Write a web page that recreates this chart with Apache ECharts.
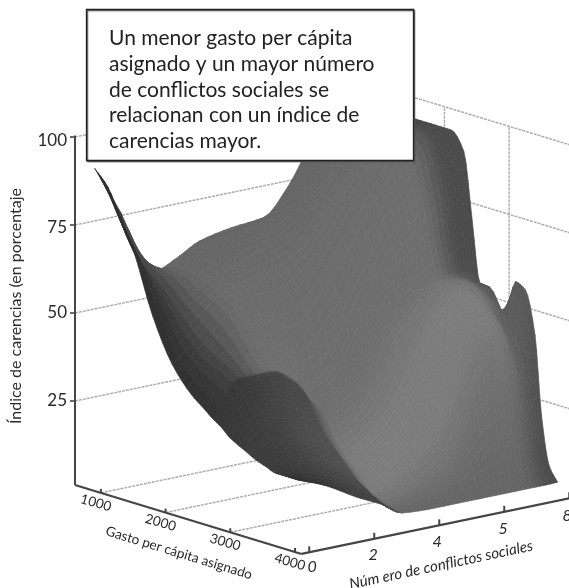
<!DOCTYPE html>
<html>
<head>
<meta charset="utf-8">
<script src="https://cdn.jsdelivr.net/npm/echarts@6/dist/echarts.min.js"></script>
<style>
html,body{margin:0;padding:0;background:#fff;}
#main{width:569px;height:588px;}
</style>
</head>
<body>
<div id="main"></div>
<script>
var nota = ['Un menor gasto per cápita','asignado y un mayor número','de conflictos sociales se','relacionan con un índice de','carencias mayor.'];
var gastoTicks = [1000,2000,3000,4000];
var conflictoTicks = ['0','2','4','5','8'];
var indiceTicks = [25,50,75,100];

// gasto per capita of each row, position on the conflictos axis of each column
var gastoFilas = [600,800,1000,1200,1500,1800,2100,2300,2430,2550,2700,2950,3100,3250,3400,3500,3620,3750];
var conflictoCols = [0.3,0.7,1.2,1.6,1.9,2.4,2.9,3.3,3.6,3.9,4.1,4.29];
// indice, one list per column
var col0 = [90,86,78,70,53,41,34,31,29,27.5,25,22.5,21,20,19,19,19,19];
var col1 = [76,67,62,59,53,47,43,41,39,37,33,27,24,21,18.5,17.5,16.5,16];
var col2 = [57,59,60,60,58,55,48,42,39,36,31,24,21,18,15.5,14,12.5,10.7];
var col3 = [60,62,63,63,61,56,46,38,34,30,25,19,16,13,11,9.5,8,7];
var col4 = [63,65,66,66,63,56,43,32,27,24,18.5,13,10,7,5.5,4.8,4,3.5];
var col5 = [65,66,67,68,66,62,52,40,33,29,24,18,15,12,9,7,5,3];
var col6 = [66,68,70,74,77,75,66,58,52,46,40,31,26,21,16,12,8,3];
var col7 = [74,78,82,85,87,85,78,68,58,53,51,48,45,40,33,25,13,3];
var col8 = [83,86,89,91,93,93,86,74,62,56,55,54,52,48,41,31,15,3];
var col9 = [88,90,92,94,95,95,92,80,64,56,56,53,50,46,38,28,13,3];
var col10 = [90.5,91.5,93,94,94.5,94.5,93,86,68,55,54,50,44,39,32,22,9,3];
var col11 = [91,92,93,94,94,94,94,89,70,53,52.7,46,56.5,55,43,20.8,7,3.1];
var indice = [col0,col1,col2,col3,col4,col5,col6,col7,col8,col9,col10,col11];
// darker front face of the surface: beyond this gasto and below this conflictos position
var caraGasto = 2430;
var caraConflicto = 1.9;

// oblique projection of the box
var GX = 0.0647, GY = 0.0197, AX = 65, AY = -13.5, ZY = -3.52;
var ORIGEN_X = 75, ORIGEN_Y = 489, G0 = 600, G_MAX = 4100, A_PARED = 4.29, A_MAX = 4.8, Z_PISO = 1.14;
function proy(g, a, z){
	return [ORIGEN_X + GX*(g-G0) + AX*a, ORIGEN_Y + GY*(g-G0) + AY*a + ZY*z];
}

function tangentes(xs, ys){
	var m = [], t = [], i;
	for(i=0;i<xs.length-1;i++){ m.push((ys[i+1]-ys[i])/(xs[i+1]-xs[i])); }
	t[0] = m[0];
	t[xs.length-1] = m[m.length-1];
	for(i=1;i<xs.length-1;i++){
		t[i] = m[i-1]*m[i] <= 0 ? 0 : 2*m[i-1]*m[i]/(m[i-1]+m[i]);
	}
	return t;
}
// same idea as smooth:true on a line, only for drawing between the read values
function suave(xs, ys, t, x){
	var i = 0;
	while(i < xs.length-2 && x > xs[i+1]){ i++; }
	var h = xs[i+1]-xs[i], s = (x-xs[i])/h;
	var h00 = 2*s*s*s-3*s*s+1, h10 = s*s*s-2*s*s+s, h01 = -2*s*s*s+3*s*s, h11 = s*s*s-s*s;
	return h00*ys[i] + h10*h*t[i] + h01*ys[i+1] + h11*h*t[i+1];
}
function partir(xs, n){
	var r = [];
	for(var i=0;i<xs.length-1;i++){
		for(var k=0;k<n;k++){ r.push(xs[i]+(xs[i+1]-xs[i])*k/n); }
	}
	r.push(xs[xs.length-1]);
	return r;
}

var SUB = 4;
var gFino = partir(gastoFilas, SUB);
var aFino = partir(conflictoCols, SUB);
var colFina = indice.map(function(c){
	var t = tangentes(gastoFilas, c);
	return gFino.map(function(g){ return suave(gastoFilas, c, t, g); });
});
var zFino = gFino.map(function(g, i){
	var fila = colFina.map(function(c){ return c[i]; });
	var t = tangentes(conflictoCols, fila);
	return aFino.map(function(a){ return suave(conflictoCols, fila, t, a); });
});

function rampa(x, a, b){
	var s = Math.max(0, Math.min(1, (x-a)/(b-a)));
	return s*s*(3-2*s);
}
// grey of the surface: light along gasto, darker flanks at both ends of conflictos
function tono(i, j){
	var g = (gFino[i]+gFino[i+1])/2, a = (aFino[j]+aFino[j+1])/2;
	var v = 100 + 10*rampa(g,600,2400) + 14*rampa(g,2400,2950) - 22*rampa(g,3200,3750);
	var atras = 1 - rampa(g,caraGasto+60,caraGasto+140);
	var flancoIzq = 0.46 + 0.54*rampa(a,0.3,1.25);
	var flancoDer = 1 - (0.32*atras*rampa(a,3.6,4.1) + 0.28*(1-atras)*rampa(a,3.7,4.29));
	var frente = rampa(g,caraGasto-25,caraGasto+25)*(1-rampa(a,caraConflicto-0.3,caraConflicto+0.1));
	var cara = (1-frente) * flancoIzq + frente * (0.48 + 0.16*rampa(a,0.3,1.6));
	v = Math.round(v*cara*flancoDer);
	return 'rgb('+v+','+v+','+v+')';
}

var celdas = [];
for(var fi=0;fi<gFino.length-1;fi++){
	for(var cj=aFino.length-2;cj>=0;cj--){
		celdas.push([fi,cj]);
	}
}

function linea(api, a, b, color, ancho, dash){
	var p = api.coord(a), q = api.coord(b);
	return {type:'line', shape:{x1:p[0],y1:p[1],x2:q[0],y2:q[1]},
		style:{stroke:color,lineWidth:ancho,lineDash:dash||null}};
}
function texto(api, pos, s, tam, ang, alin, ital){
	var p = api.coord(pos);
	return {type:'text', x:p[0], y:p[1], rotation:ang*Math.PI/180,
		style:{text:s, fill:'#2a2a2a', font:(ital?'italic ':'')+tam+'px Lato', align:alin||'center', verticalAlign:'middle'}};
}

function dibujaRejilla(params, api){
	var h = [], GRIS = '#adadad', D = [3,1];
	indiceTicks.forEach(function(z){
		h.push(linea(api, proy(G0,0,z), proy(G0,A_PARED,z), GRIS, 1.5, D));
		h.push(linea(api, proy(G0,A_PARED,z), proy(G_MAX,A_PARED,z), GRIS, 1.5, D));
	});
	gastoTicks.forEach(function(g){
		if(g < 4000){
			h.push(linea(api, proy(g,0,Z_PISO), proy(g,A_PARED,Z_PISO), GRIS, 1.5, D));
			h.push(linea(api, proy(g,A_PARED,Z_PISO), proy(g,A_PARED,100), GRIS, 1.5, D));
		}
	});
	return {type:'group', children:h};
}

function dibujaCelda(params, api){
	var i = api.value(0), j = api.value(1);
	var pts = [[i,j],[i+1,j],[i+1,j+1],[i,j+1]].map(function(v){
		return api.coord(proy(gFino[v[0]], aFino[v[1]], zFino[v[0]][v[1]]));
	});
	var c = tono(i,j);
	return {type:'polygon', shape:{points:pts}, style:{fill:c,stroke:c,lineWidth:0.7}};
}

function dibujaEjes(params, api){
	var h = [], OSC = '#454545';
	var dxTick = [3,-1,-2,-1,-2], dyTick = [15,16,17,17,18];
	h.push(linea(api, proy(G0,0,100.4), proy(G0,0,Z_PISO), OSC, 2));
	h.push(linea(api, proy(G0,0,Z_PISO), proy(G_MAX,0,Z_PISO), OSC, 2.2));
	h.push(linea(api, proy(G_MAX,0,Z_PISO), proy(G_MAX,A_MAX,Z_PISO), OSC, 2.2));
	indiceTicks.forEach(function(z){
		var p = proy(G0,0,z);
		h.push(linea(api, [p[0]-5,p[1]], p, OSC, 1.6));
		h.push(texto(api, [p[0]-8,p[1]+(z==100?4:z==75?3:0)], String(z), 17, 0, 'right'));
	});
	gastoTicks.forEach(function(g){
		var p = proy(g,0,Z_PISO);
		h.push(linea(api, p, [p[0],p[1]-4], OSC, 2));
		h.push(texto(api, [p[0]-5,p[1]+10], String(g), 13.5, -16));
	});
	conflictoTicks.forEach(function(s,k){
		var p = proy(G_MAX,k+0.12,Z_PISO);
		h.push(linea(api, p, [p[0],p[1]-6], OSC, 2));
		h.push(texto(api, [p[0]+dxTick[k],p[1]+dyTick[k]], s, 16, 0, 'center', true));
	});
	h.push(texto(api, [16,306], 'Índice de carencias (en porcentaje', 16, 90));
	h.push(texto(api, [179,553], 'Gasto per cápita asignado', 13.5, -17));
	h.push(texto(api, [441,565], 'Núm ero de conflictos sociales', 15, 12, 'center', true));
	return {type:'group', children:h};
}

var chart = echarts.init(document.getElementById('main'));
chart.setOption({
	animation:false,
	backgroundColor:'#fff',
	grid:{left:0,right:0,top:0,bottom:0},
	xAxis:{type:'value',min:0,max:569,show:false},
	yAxis:{type:'value',min:0,max:588,inverse:true,show:false},
	series:[
		{type:'custom',clip:false,silent:true,z:1,data:[[0]],renderItem:dibujaRejilla},
		{type:'custom',clip:false,silent:true,z:2,data:celdas,encode:{x:0,y:1},renderItem:dibujaCelda},
		{type:'custom',clip:false,silent:true,z:3,data:[[0]],renderItem:dibujaEjes}
	],
	graphic:[
		{type:'rect',z:10,shape:{x:86.5,y:9.5,width:327,height:151},
			style:{fill:'#fff',stroke:'#222',lineWidth:1.3,shadowBlur:1,shadowOffsetX:1,shadowOffsetY:1,shadowColor:'#555'}},
		{type:'text',z:11,x:109,y:25.5,style:{text:nota.join('\n'),fill:'#222',font:'21px Lato',lineHeight:25.7}}
	]
});
</script>
</body>
</html>
